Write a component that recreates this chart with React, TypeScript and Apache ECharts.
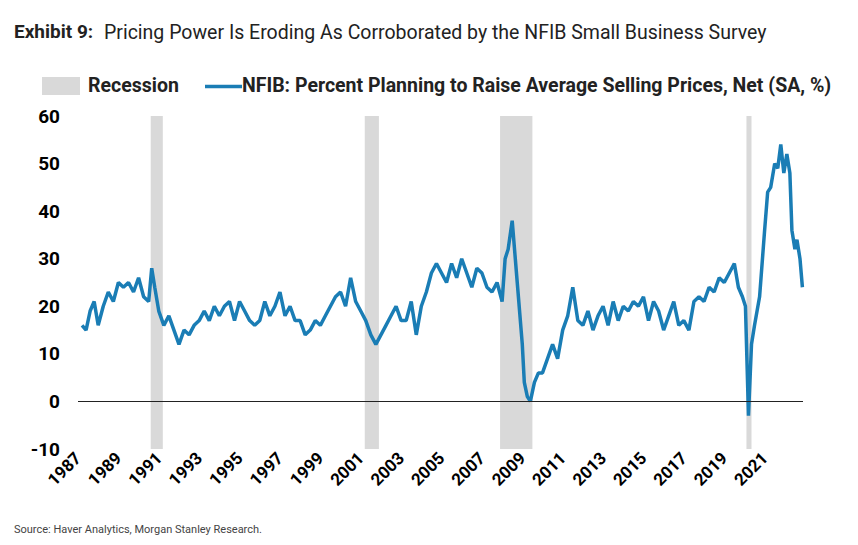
import * as echarts from 'echarts';
import { useEffect, useRef } from 'react';

const YEARS = [
  1987.2, 1987.4, 1987.6, 1987.8, 1988.0, 1988.25, 1988.5, 1988.75,
  1989.0, 1989.25, 1989.5, 1989.75, 1990.0, 1990.25, 1990.5, 1990.65, 1990.8, 1991.0, 1991.25, 1991.5, 1991.75,
  1992.0, 1992.25, 1992.5, 1992.75, 1993.0, 1993.25, 1993.5, 1993.75,
  1994.0, 1994.25, 1994.5, 1994.75, 1995.0, 1995.25, 1995.5, 1995.75,
  1996.0, 1996.25, 1996.5, 1996.75, 1997.0, 1997.25, 1997.5, 1997.75,
  1998.0, 1998.25, 1998.5, 1998.75, 1999.0, 1999.25, 1999.5, 1999.75,
  2000.0, 2000.25, 2000.5, 2000.75, 2001.0, 2001.25, 2001.5, 2001.75,
  2002.0, 2002.25, 2002.5, 2002.75, 2003.0, 2003.25, 2003.5, 2003.75,
  2004.0, 2004.25, 2004.5, 2004.75, 2005.0, 2005.25, 2005.5, 2005.75,
  2006.0, 2006.25, 2006.5, 2006.75, 2007.0, 2007.25, 2007.5, 2007.75,
  2008.0, 2008.15, 2008.3, 2008.5, 2008.75, 2009.0, 2009.1, 2009.25, 2009.4,
  2009.6, 2009.8, 2010.0, 2010.25, 2010.5, 2010.75, 2011.0, 2011.25, 2011.5, 2011.75,
  2012.0, 2012.25, 2012.5, 2012.75, 2013.0, 2013.25, 2013.5, 2013.75,
  2014.0, 2014.25, 2014.5, 2014.75, 2015.0, 2015.25, 2015.5, 2015.75,
  2016.0, 2016.25, 2016.5, 2016.75, 2017.0, 2017.25, 2017.5, 2017.75,
  2018.0, 2018.25, 2018.5, 2018.75, 2019.0, 2019.25, 2019.5, 2019.7, 2019.9,
  2020.05, 2020.2, 2020.35, 2020.5, 2020.75, 2021.0, 2021.15, 2021.3, 2021.5, 2021.65, 2021.8,
  2021.95, 2022.1, 2022.25, 2022.35, 2022.5, 2022.6, 2022.75, 2022.87,
];

const NFIB = [
  16, 15, 19, 21, 16, 20, 23, 21,
  25, 24, 25, 23, 26, 22, 21, 28, 24, 19, 16, 18, 15,
  12, 15, 14, 16, 17, 19, 17, 20, 18, 20, 21, 17, 21, 19, 17, 16,
  17, 21, 18, 20, 23, 18, 20, 17, 17, 14, 15, 17, 16, 18, 20, 22,
  23, 20, 26, 21, 19, 17, 14, 12, 14, 16, 18, 20, 17, 17, 21, 14,
  20, 23, 27, 29, 27, 25, 29, 26, 30, 27, 24, 28, 27, 24, 23, 25,
  21, 30, 32, 38, 25, 12, 4, 1, 0,
  4, 6, 6, 9, 12, 9, 15, 18, 24, 17, 16, 19, 15, 18, 20, 16, 21, 17,
  20, 19, 21, 20, 22, 17, 21, 19, 15, 18, 21, 16, 17, 15, 21, 22,
  21, 24, 23, 26, 25, 27, 29, 24, 22,
  20, -3, 12, 16, 22, 36, 44, 45, 50, 49, 54,
  48, 52, 48, 36, 32, 34, 30, 24,
];

const RECESSIONS: [number, number][] = [
  [1990.6, 1991.2],
  [2001.2, 2001.9],
  [2007.9, 2009.5],
  [2020.1, 2020.35],
];

const TICK_YEARS = [1987, 1989, 1991, 1993, 1995, 1997, 1999, 2001, 2003, 2005, 2007, 2009, 2011, 2013, 2015, 2017, 2019, 2021];

const FONT = 'Roboto, "Liberation Sans", sans-serif';

export default function App() {
  const ref = useRef<HTMLDivElement>(null);

  useEffect(() => {
    if (!ref.current) return;
    const chart = echarts.init(ref.current, null, { renderer: 'svg' });

    chart.setOption({
      animation: false,
      backgroundColor: '#fff',
      textStyle: { fontFamily: FONT },
      grid: { left: 78, right: 55, top: 116, bottom: 96 },
      xAxis: {
        type: 'value',
        min: 1987,
        max: 2022.9,
        interval: 1,
        axisLine: { show: false },
        axisTick: { show: false },
        splitLine: { show: false },
        axisLabel: {
          rotate: 45,
          margin: 6,
          color: '#000',
          fontWeight: 'bold',
          fontSize: 17,
          fontFamily: FONT,
          formatter: (v: number) => (TICK_YEARS.includes(Math.round(v)) ? String(Math.round(v)) : ''),
        },
      },
      yAxis: {
        type: 'value',
        min: -10,
        max: 60,
        interval: 10,
        axisLine: { show: false },
        axisTick: { show: false },
        splitLine: { show: false },
        axisLabel: { color: '#000', fontWeight: 'bold', fontSize: 19, fontFamily: FONT, margin: 18 },
      },
      series: [
        {
          type: 'line',
          data: YEARS.map((y, i) => [y, NFIB[i]]),
          showSymbol: false,
          lineStyle: { color: '#1a7db5', width: 3.5 },
          z: 3,
          markArea: {
            silent: true,
            itemStyle: { color: '#d9d9d9' },
            data: RECESSIONS.map(([a, b]) => [{ xAxis: a }, { xAxis: b }]),
          },
          markLine: {
            silent: true,
            symbol: 'none',
            label: { show: false },
            lineStyle: { color: '#222', width: 1.2, type: 'solid' },
            data: [{ yAxis: 0 }],
          },
        },
      ],
      graphic: [
        {
          type: 'text', left: 14, top: 22,
          style: { text: 'Exhibit 9:', fontWeight: 'bold', fontSize: 19, fill: '#222', fontFamily: FONT },
        },
        {
          type: 'text', left: 104, top: 22,
          style: { text: 'Pricing Power Is Eroding As Corroborated by the NFIB Small Business Survey', fontSize: 19.5, fill: '#222', fontFamily: FONT },
        },
        { type: 'rect', shape: { x: 42, y: 77, width: 38, height: 18 }, style: { fill: '#d9d9d9' } },
        {
          type: 'text', left: 88, top: 75,
          style: { text: 'Recession', fontWeight: 'bold', fontSize: 19.5, fill: '#222', fontFamily: FONT },
        },
        { type: 'line', shape: { x1: 205, y1: 86.5, x2: 242, y2: 86.5 }, style: { stroke: '#1a7db5', lineWidth: 3.5 } },
        {
          type: 'text', left: 242, top: 75,
          style: { text: 'NFIB: Percent Planning to Raise Average Selling Prices, Net (SA, %)', fontWeight: 'bold', fontSize: 19.5, fill: '#222', fontFamily: FONT },
        },
        {
          type: 'text', left: 14, top: 524,
          style: { text: 'Source: Haver Analytics, Morgan Stanley Research.', fontSize: 11, fill: '#444', fontFamily: FONT },
        },
      ],
    });

    return () => chart.dispose();
  }, []);

  return <div ref={ref} style={{ position: 'fixed', left: 0, top: 0, width: 858, height: 545 }} />;
}
